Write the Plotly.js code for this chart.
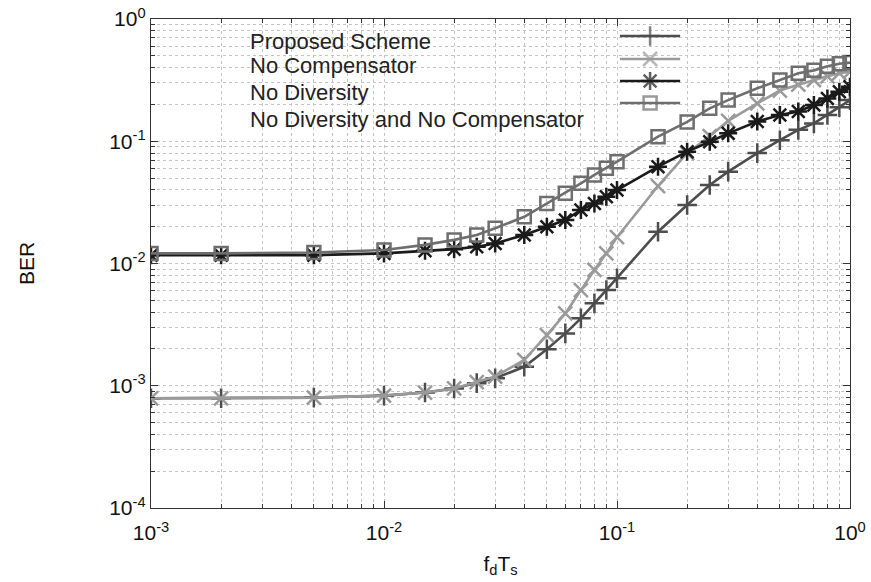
<!DOCTYPE html>
<html>
<head>
<meta charset="utf-8">
<script src="https://cdn.plot.ly/plotly-3.0.1.min.js"></script>
<style>html,body{margin:0;padding:0;background:#fff;}#chart{width:871px;height:582px;}</style>
</head>
<body>
<div id="chart"></div>
<script>
// ---- data ----
const fdTs = [0.001,0.002,0.005,0.01,0.015,0.02,0.025,0.03,0.04,0.05,0.06,0.07,0.08,0.09,0.1,0.15,0.2,0.25,0.3,0.4,0.5,0.6,0.7,0.8,0.9,1.0];
const proposed = [7.9e-4,7.9e-4,8.0e-4,8.3e-4,8.8e-4,9.5e-4,1.05e-3,1.15e-3,1.43e-3,1.99e-3,2.68e-3,3.56e-3,4.72e-3,6.07e-3,7.57e-3,1.82e-2,3.01e-2,4.39e-2,5.64e-2,8.0e-2,0.102,0.124,0.14,0.164,0.19,0.217];
const noCompensator = [7.9e-4,7.9e-4,8.0e-4,8.3e-4,8.8e-4,9.5e-4,1.07e-3,1.19e-3,1.63e-3,2.6e-3,3.9e-3,6.07e-3,8.85e-3,1.21e-2,1.64e-2,4.3e-2,8.0e-2,0.11,0.147,0.204,0.26,0.29,0.317,0.34,0.36,0.37];
const noDiversity = [1.17e-2,1.17e-2,1.17e-2,1.21e-2,1.27e-2,1.31e-2,1.37e-2,1.46e-2,1.71e-2,2.0e-2,2.27e-2,2.74e-2,3.1e-2,3.52e-2,3.99e-2,6.19e-2,8.22e-2,9.9e-2,0.116,0.145,0.164,0.175,0.198,0.224,0.254,0.279];
const noDivNoComp = [1.21e-2,1.21e-2,1.23e-2,1.29e-2,1.42e-2,1.56e-2,1.71e-2,1.94e-2,2.41e-2,3.1e-2,3.75e-2,4.53e-2,5.3e-2,6.0e-2,6.8e-2,0.109,0.144,0.186,0.217,0.271,0.317,0.36,0.38,0.41,0.43,0.44];
const seriesNames = ["Proposed Scheme","No Compensator","No Diversity","No Diversity and No Compensator"];
const xTickVals = [0.001,0.01,0.1,1];
const xTickText = ["10<sup>-3</sup>","10<sup>-2</sup>","10<sup>-1</sup>","10<sup>0</sup>"];
const yTickVals = [1e-4,1e-3,1e-2,1e-1,1];
const yTickText = ["10<sup>-4</sup>","10<sup>-3</sup>","10<sup>-2</sup>","10<sup>-1</sup>","10<sup>0</sup>"];

// ---- styles ----
const styles = [
  {color:'#4d4d4d', symbol:'cross-thin-open', size:14},
  {color:'#9a9a9a', symbol:'x-thin-open', size:14},
  {color:'#1a1a1a', symbol:'asterisk-open', size:15},
  {color:'#6e6e6e', symbol:'square-open', size:13}
];
const seriesY = [proposed, noCompensator, noDiversity, noDivNoComp];
const FONT = 'Liberation Sans, Arial, sans-serif';

function minorVals(lo, hi){
  const v=[];
  for(let e=lo;e<hi;e++){for(let m=2;m<=9;m++){v.push(m*Math.pow(10,e));}}
  return v;
}

const traces = seriesY.map((y,i)=>({
  x: fdTs, y: y, type:'scatter', mode:'lines+markers', name: seriesNames[i],
  line:{color:styles[i].color, width:2.6},
  marker:{symbol:styles[i].symbol, size:styles[i].size, color:styles[i].color,
          line:{color:styles[i].color, width:2.5}},
  showlegend:false
}));

// legend (drawn manually: text on the left, samples on the right, as in the reference)
const legTextX = 0.139;
const legTextY = [0.955, 0.904, 0.849, 0.795];
const legSampleX = [0.671, 0.714, 0.757];
const legSampleY = [0.9652, 0.9182, 0.8732, 0.8282];
styles.forEach((s,i)=>{
  traces.push({
    x: legSampleX, y: [legSampleY[i],legSampleY[i],legSampleY[i]],
    xaxis:'x2', yaxis:'y2', type:'scatter', mode:'lines+markers', showlegend:false, hoverinfo:'skip',
    line:{color:s.color, width:2.6},
    marker:{symbol:s.symbol, size:[0,s.size,0], color:s.color, line:{color:s.color, width:2.5}}
  });
});
const annotations = seriesNames.map((n,i)=>({
  xref:'paper', yref:'paper', x:legTextX, y:legTextY[i], xanchor:'left', yanchor:'middle',
  text:n, showarrow:false, font:{family:FONT, size:22, color:'#222'}
}));

const gridStyle = {showgrid:true, gridcolor:'#c4c4c4', griddash:'dot', gridwidth:1};
const layout = {
  width:871, height:582,
  margin:{l:151, r:21, t:19, b:74},
  paper_bgcolor:'#fff', plot_bgcolor:'#fff',
  font:{family:FONT, size:21, color:'#111'},
  xaxis:Object.assign({
    type:'log', range:[-3,0], tickmode:'array', tickvals:xTickVals, ticktext:xTickText,
    tickfont:{size:21}, ticklabelstandoff:6,
    ticks:'inside', ticklen:7, tickcolor:'#333', showline:true, linecolor:'#333', linewidth:1.2, mirror:'ticks',
    zeroline:false,
    minor:Object.assign({tickmode:'array', tickvals:minorVals(-3,0), ticks:'inside', ticklen:4, tickcolor:'#333'}, gridStyle),
    title:{text:'f<sub>d</sub>T<sub>s</sub>', standoff:12, font:{size:21}}
  }, gridStyle),
  yaxis:Object.assign({
    type:'log', range:[-4,0], tickmode:'array', tickvals:yTickVals, ticktext:yTickText,
    tickfont:{size:21},
    ticks:'inside', ticklen:7, tickcolor:'#333', showline:true, linecolor:'#333', linewidth:1.2, mirror:'ticks',
    zeroline:false,
    minor:Object.assign({tickmode:'array', tickvals:minorVals(-4,0), ticks:'inside', ticklen:4, tickcolor:'#333'}, gridStyle),
    title:{text:'BER', standoff:68, font:{size:21}}
  }, gridStyle),
  xaxis2:{overlaying:'x', range:[0,1], visible:false, fixedrange:true},
  yaxis2:{overlaying:'y', range:[0,1], visible:false, fixedrange:true},
  annotations:annotations,
  showlegend:false
};

Plotly.newPlot('chart', traces, layout, {displayModeBar:false, staticPlot:true});
</script>
</body>
</html>
